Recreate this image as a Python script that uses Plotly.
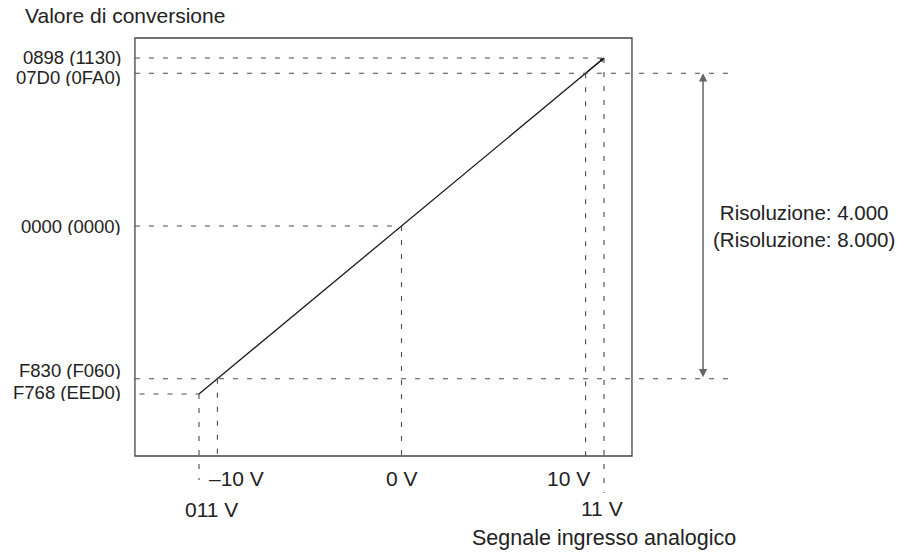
import plotly.graph_objects as go

# Analog input (V) and converted value (signed 16-bit, resolution 4000)
volts = [-11, -10, 0, 10, 11]
codes = [-2200, -2000, 0, 2000, 2200]
volt_labels = ["011 V", "–10 V", "0 V", "10 V", "11 V"]
code_labels = ["F768 (EED0)", "F830 (F060)", "0000 (0000)", "07D0 (0FA0)", "0898 (1130)"]

y_title = "Valore di conversione"
x_title = "Segnale ingresso analogico"
span_text = "Risoluzione: 4.000<br>(Risoluzione: 8.000)"

# ---- layout geometry (axis units) ----
W, H = 908, 556
X_RANGE = [-21.81, 27.514]
Y_RANGE = [-4321.5, 2959.5]
FRAME_X = [-14.48, 12.52]
FRAME_Y = [-3012, 2462]
GUIDE_X = 18.1       # right end of the range guides
SPAN_X = 16.38       # resolution arrow
TAIL_Y = {-11: -3326, 11: -3497}   # guides running below the frame

FONT = "Liberation Sans, Arial, Helvetica, sans-serif"
TXT = "#222222"
DASH = dict(color="#4a4a4a", width=1.1, dash="5px,9px")

fig = go.Figure()

# conversion characteristic
fig.add_trace(go.Scatter(x=volts, y=codes, mode="lines",
                         line=dict(color="#1a1a1a", width=1.3),
                         hoverinfo="skip", showlegend=False))
# small arrowhead at the upper end
fig.add_annotation(x=volts[-1], y=codes[-1], ax=volts[-2], ay=codes[-2],
                   xref="x", yref="y", axref="x", ayref="y", text="",
                   showarrow=True, arrowhead=2, arrowsize=0.7, arrowwidth=1.2,
                   arrowcolor="#1a1a1a", standoff=0)

shapes = []
# frame
shapes.append(dict(type="rect", xref="x", yref="y",
                   x0=FRAME_X[0], x1=FRAME_X[1], y0=FRAME_Y[0], y1=FRAME_Y[1],
                   line=dict(color="#444444", width=1.3), layer="below"))

# horizontal guides from the frame to the curve (or beyond for the span)
for v, c in zip(volts, codes):
    x_end = GUIDE_X if abs(v) == 10 else v
    shapes.append(dict(type="line", xref="x", yref="y",
                       x0=FRAME_X[0] + (0.25 if v == -11 else 0), x1=x_end,
                       y0=c, y1=c, line=DASH))
# vertical guides from the curve down
for v, c in zip(volts, codes):
    y_end = TAIL_Y.get(v, FRAME_Y[0])
    shapes.append(dict(type="line", xref="x", yref="y",
                       x0=v, x1=v, y0=c, y1=y_end, line=DASH))
fig.update_layout(shapes=shapes)

# resolution span arrow
fig.add_annotation(x=SPAN_X, y=codes[3], ax=SPAN_X, ay=codes[1],
                   xref="x", yref="y", axref="x", ayref="y", text="",
                   showarrow=True, arrowhead=2, arrowside="end+start",
                   arrowsize=1.1, arrowwidth=1.5, arrowcolor="#666666", standoff=0)
fig.add_annotation(x=SPAN_X, y=(codes[1] + codes[3]) / 2, xref="x", yref="y",
                   text=span_text, showarrow=False, xanchor="left", yanchor="middle",
                   xshift=8, align="center", font=dict(family=FONT, size=20.5, color=TXT))

# code labels (left of the frame); closely spaced pairs are nudged apart
code_shift = {-2200: 2, -2000: 9, 0: 0, 2000: -4, 2200: 1}
for c, lab in zip(codes, code_labels):
    fig.add_annotation(x=FRAME_X[0], y=c, xref="x", yref="y", text=lab,
                       showarrow=False, xanchor="right", yanchor="middle",
                       xshift=-12, yshift=code_shift[c], height=18, valign="middle",
                       font=dict(family=FONT, size=18.5, color=TXT))

# voltage labels (below the frame)
volt_pos = {
    -11: dict(xanchor="center", xshift=12, yshift=-53),
    -10: dict(xanchor="left", xshift=-10, yshift=-22),
    0: dict(xanchor="center", xshift=0, yshift=-22),
    10: dict(xanchor="right", xshift=6, yshift=-22),
    11: dict(xanchor="center", xshift=-2, yshift=-52),
}
for v, lab in zip(volts, volt_labels):
    p = volt_pos[v]
    fig.add_annotation(x=v, y=FRAME_Y[0], xref="x", yref="y", text=lab,
                       showarrow=False, yanchor="middle", xanchor=p["xanchor"],
                       xshift=p["xshift"], yshift=p["yshift"],
                       font=dict(family=FONT, size=21, color=TXT))

# axis titles
fig.add_annotation(x=23 / W, y=1 - 15 / H, xref="paper", yref="paper", text=y_title,
                   showarrow=False, xanchor="left", yanchor="middle",
                   font=dict(family=FONT, size=21, color=TXT))
fig.add_annotation(x=volts[-1], y=1 - 538 / H, xref="x", yref="paper", text=x_title,
                   showarrow=False, xanchor="center", yanchor="middle",
                   font=dict(family=FONT, size=21.5, color=TXT))

fig.update_xaxes(range=X_RANGE, visible=False, fixedrange=True)
fig.update_yaxes(range=Y_RANGE, visible=False, fixedrange=True)
fig.update_layout(width=W, height=H, margin=dict(l=0, r=0, t=0, b=0),
                  paper_bgcolor="white", plot_bgcolor="white", showlegend=False)

fig.write_html("out.html")
